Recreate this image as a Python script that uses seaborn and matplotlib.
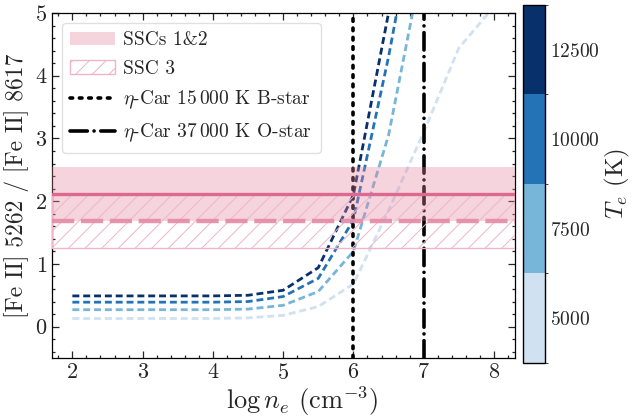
import numpy as np
import pandas as pd
import matplotlib
matplotlib.use("Agg")
import matplotlib.pyplot as plt
import seaborn as sns
from matplotlib.colors import ListedColormap, BoundaryNorm
from matplotlib.cm import ScalarMappable
from matplotlib.patches import Patch
from matplotlib.lines import Line2D
from matplotlib.ticker import MultipleLocator

# ---------------- data ----------------
log_ne = [2.0, 2.5, 3.0, 3.5, 4.0, 4.5, 5.0, 5.5, 6.0, 6.5, 7.0, 7.5, 8.0]
temps = [5000, 7500, 10000, 12500]
ratio_T5000 = [0.13, 0.13, 0.13, 0.13, 0.13, 0.14, 0.18, 0.32, 0.68, 1.85, 3.10, 4.44, 5.10]
ratio_T7500 = [0.27, 0.27, 0.27, 0.27, 0.27, 0.28, 0.34, 0.56, 1.20, 3.05, 5.90, 8.00, 9.50]
ratio_T10000 = [0.39, 0.39, 0.39, 0.39, 0.39, 0.40, 0.48, 0.77, 1.70, 4.30, 7.30, 9.50, 11.0]
ratio_T12500 = [0.49, 0.49, 0.49, 0.49, 0.49, 0.50, 0.58, 0.94, 2.10, 5.00, 8.00, 10.0, 12.0]

ssc12_ratio, ssc12_err = 2.12, 0.43
ssc3_ratio, ssc3_err = 1.68, 0.43
etacar_B_logne = 6.0
etacar_O_logne = 7.0

legend_labels = ["SSCs 1&2", "SSC 3",
                 r"$\eta$-Car 15$\,$000 K B-star",
                 r"$\eta$-Car 37$\,$000 K O-star"]
xlabel = r"$\log n_e$ (cm$^{-3}$)"
ylabel = "[Fe II] 5262 / [Fe II] 8617"
cbar_label = r"$T_e$ (K)"

# ---------------- style ----------------
sns.set_style("ticks")
plt.rcParams["font.family"] = ["cmr10", "DejaVu Serif"]
plt.rcParams["mathtext.fontset"] = "cm"
plt.rcParams["axes.formatter.use_mathtext"] = True
plt.rcParams["hatch.linewidth"] = 0.7
plt.rcParams["axes.edgecolor"] = "black"

df = pd.DataFrame({
    "log_ne": log_ne * 4,
    "ratio": ratio_T5000 + ratio_T7500 + ratio_T10000 + ratio_T12500,
    "T": np.repeat(temps, len(log_ne)),
})

blues = plt.get_cmap("Blues")
colors = [blues(v) for v in (0.2, 0.47, 0.74, 1.0)]
palette = dict(zip(temps, colors))

fig = plt.figure(figsize=(6.32, 4.18), dpi=100)
ax = fig.add_axes([0.0823, 0.1435, 0.7326, 0.8255])
cax = fig.add_axes([0.8275, 0.1316, 0.0348, 0.8565])

sns.lineplot(data=df, x="log_ne", y="ratio", hue="T", palette=palette,
             legend=False, ax=ax, linewidth=2.0,
             linestyle=(0, (2.5, 1.4)), zorder=2)

dot_style = (0, (0.73, 1.86))
dashdot_style = (0, (4.8, 1.86, 0.01, 1.86))
ax.axvline(etacar_B_logne, color="black", lw=2.6, linestyle=dot_style,
           dash_capstyle="round", zorder=2.5)
ax.axvline(etacar_O_logne, color="black", lw=2.6, linestyle=dashdot_style,
           dash_capstyle="round", zorder=2.5)

fill_col = "#e6849f"
ax.axhspan(ssc12_ratio - ssc12_err, ssc12_ratio + ssc12_err,
           facecolor=fill_col, alpha=0.35, lw=0, zorder=3)
ax.axhspan(ssc3_ratio - ssc3_err, ssc3_ratio + ssc3_err,
           facecolor="none", edgecolor="#efb4c7", hatch="//", lw=1.0, zorder=3)
ax.axhline(ssc12_ratio, color="#db6990", lw=2.4, zorder=3.5)
ax.axhline(ssc3_ratio, color="#e58aa6", lw=3.2, linestyle=(0, (5, 1.5)),
           alpha=0.9, zorder=3.5)

ax.set_xlim(1.71, 8.3)
ax.set_ylim(-0.5, 5)
ax.xaxis.set_major_locator(MultipleLocator(1))
ax.xaxis.set_minor_locator(MultipleLocator(0.2))
ax.yaxis.set_major_locator(MultipleLocator(1))
ax.yaxis.set_minor_locator(MultipleLocator(0.2))
ax.tick_params(which="both", direction="in", top=True, right=True,
               labelsize=16, width=0.9)
ax.tick_params(which="major", length=5)
ax.tick_params(which="minor", length=2.5)
ax.set_xlabel(xlabel, fontsize=19, labelpad=1)
ax.set_ylabel(ylabel, fontsize=17)
ax.xaxis.set_label_coords(0.54, -0.075, transform=ax.transAxes)
ax.xaxis.label.set_va("top")
for sp in ax.spines.values():
    sp.set_linewidth(0.9)

handles = [
    Patch(facecolor=fill_col, alpha=0.35, lw=0),
    Patch(facecolor="white", edgecolor="#efb4c7", hatch="//", lw=1.0),
    Line2D([], [], color="black", lw=2.6, linestyle=dot_style, dash_capstyle="round"),
    Line2D([], [], color="black", lw=2.6, linestyle=dashdot_style, dash_capstyle="round"),
]
ax.legend(handles, legend_labels, loc="upper left", fontsize=14,
          handlelength=2.3, handletextpad=0.4, labelspacing=0.55,
          borderpad=0.45, framealpha=0.8, edgecolor="0.85", fancybox=True)

bounds = [3750, 6250, 8750, 11250, 13750]
cmap = ListedColormap(colors)
norm = BoundaryNorm(bounds, cmap.N)
sm = ScalarMappable(norm=norm, cmap=cmap)
cb = fig.colorbar(sm, cax=cax, ticks=temps)
cb.ax.tick_params(labelsize=14, length=0)
cb.outline.set_linewidth(1.0)
cb.set_label(cbar_label, fontsize=18, labelpad=2)

fig.savefig("out.png", dpi=100)
